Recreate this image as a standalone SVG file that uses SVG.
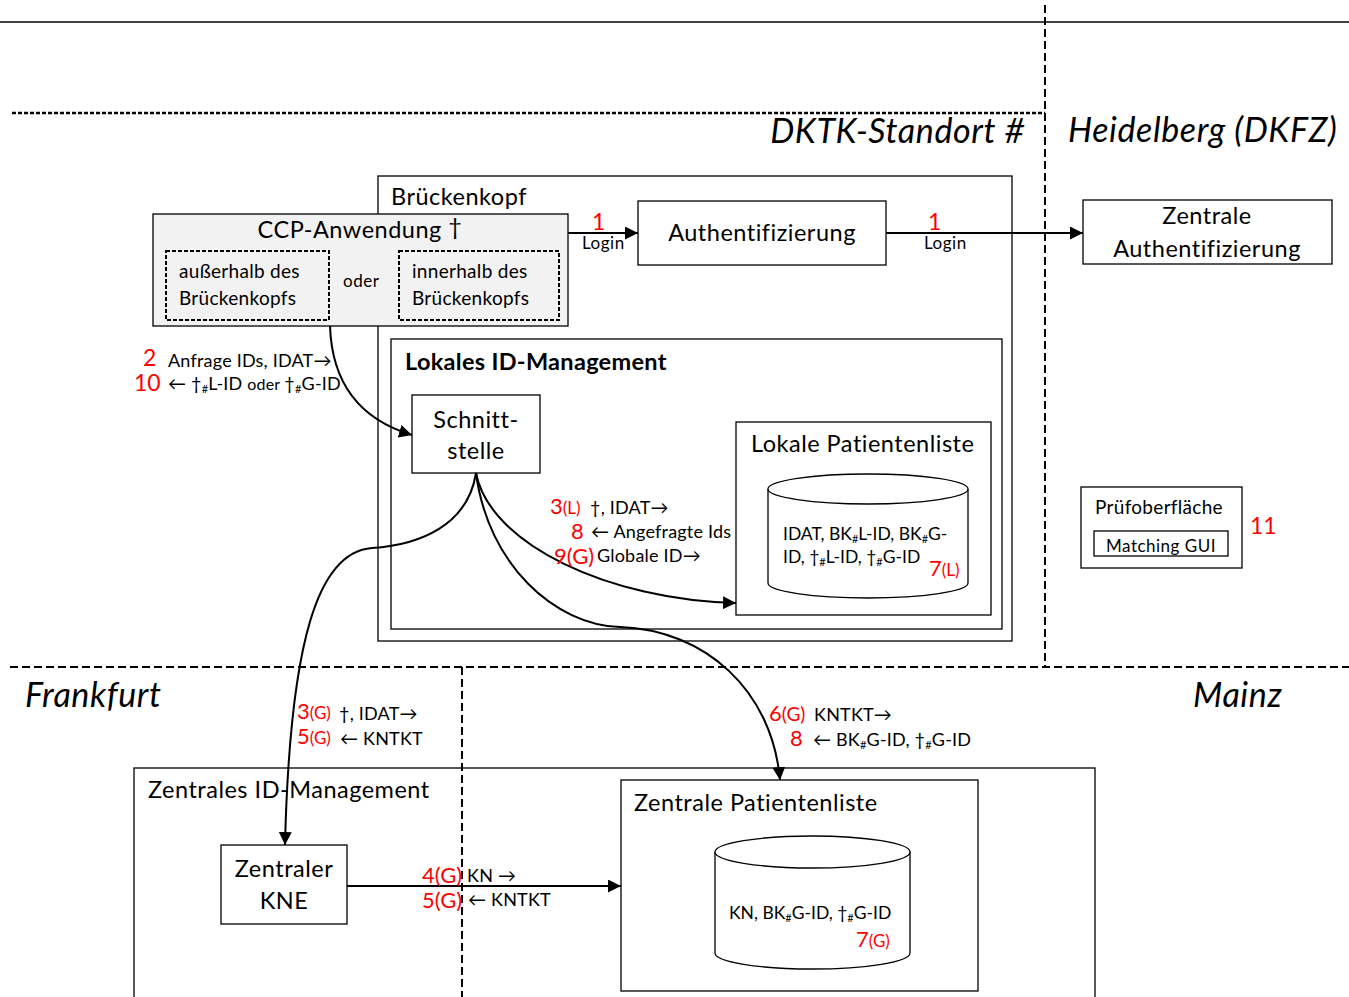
<svg xmlns="http://www.w3.org/2000/svg" width="1349" height="997" viewBox="0 0 1349 997">
  <defs>
    <marker id="arrowL" viewBox="0 0 10 10" refX="10" refY="5" markerWidth="13" markerHeight="13" markerUnits="userSpaceOnUse" orient="auto">
      <path d="M0,0 L10,5 L0,10 z" fill="#000"/>
    </marker>
    <style>
      text { font-family: Lato, "Open Sans", "DejaVu Sans", sans-serif; fill: #000; }
      .box { fill: #fff; stroke: #000; stroke-width: 1.3; }
      .ccp { fill: #f2f2f2; stroke: #000; stroke-width: 1.3; }
      .dbox { fill: none; stroke: #000; stroke-width: 2; stroke-dasharray: 4 2; }
      .region { fill: none; stroke: #000; stroke-width: 2; stroke-dasharray: 8 4; }
      .edge { fill: none; stroke: #000; stroke-width: 2; }
      .t22 { font-size: 23.5px; letter-spacing: 0.5px; }
      .t18 { font-size: 19px; letter-spacing: 0.3px; }
      .t17 { font-size: 18px; letter-spacing: 0.2px; }
      .db { font-size: 17.5px; }
      .t16 { font-size: 17px; letter-spacing: 0.5px; }
      .site { font-size: 34px; font-style: italic; letter-spacing: 0.6px; }
      .red { fill: #ff0000; }
      .sub { font-size: 11px; }
    </style>
  </defs>

  <rect x="0" y="0" width="1349" height="997" fill="#fff"/>

  <!-- site boundaries -->
  <g id="boundaries">
    <line x1="0" y1="22" x2="1349" y2="22" stroke="#000" stroke-width="1.5"/>
    <line x1="12" y1="113" x2="1045" y2="113" stroke="#000" stroke-width="2.5" stroke-dasharray="4 2"/>
    <line x1="1045" y1="5" x2="1045" y2="667" class="region"/>
    <line x1="10" y1="667" x2="1349" y2="667" class="region"/>
    <line x1="462" y1="667" x2="462" y2="997" class="region"/>
    <text class="site" x="1025" y="143" text-anchor="end">DKTK-Standort #</text>
    <text class="site" x="1068" y="142">Heidelberg (DKFZ)</text>
    <text class="site" x="25" y="707">Frankfurt</text>
    <text class="site" x="1193" y="707">Mainz</text>
  </g>

  <!-- Brückenkopf -->
  <g id="brueckenkopf">
    <rect x="378" y="176" width="634" height="465" class="box"/>
    <text class="t22" x="391" y="205">Brückenkopf</text>
  </g>

  <!-- Lokales ID-Management -->
  <g id="lokales-id-management">
    <rect x="391" y="339" width="611" height="290" class="box"/>
    <text class="t22" x="405" y="370" font-weight="bold" style="letter-spacing:0.3px">Lokales ID-Management</text>
  </g>

  <!-- CCP-Anwendung -->
  <g id="ccp-anwendung">
    <rect x="153" y="214" width="415" height="112" class="ccp"/>
    <text class="t22" x="360" y="238" text-anchor="middle">CCP-Anwendung <tspan dy="-3">†</tspan></text>
    <rect x="166" y="251" width="163" height="69" class="dbox"/>
    <text class="t18" x="179" y="278">außerhalb des</text>
    <text class="t18" x="179" y="305">Brückenkopfs</text>
    <text class="t16" x="343" y="287">oder</text>
    <rect x="399" y="251" width="160" height="69" class="dbox"/>
    <text class="t18" x="412" y="278">innerhalb des</text>
    <text class="t18" x="412" y="305">Brückenkopfs</text>
  </g>

  <!-- Authentifizierung -->
  <g id="authentifizierung">
    <rect x="638" y="201" width="248" height="64" class="box"/>
    <text class="t22" x="762" y="241" text-anchor="middle">Authentifizierung</text>
  </g>

  <!-- Zentrale Authentifizierung -->
  <g id="zentrale-authentifizierung">
    <rect x="1083" y="200" width="249" height="64" class="box"/>
    <text class="t22" x="1207" y="224" text-anchor="middle">Zentrale</text>
    <text class="t22" x="1207" y="257" text-anchor="middle">Authentifizierung</text>
  </g>

  <!-- Schnittstelle -->
  <g id="schnittstelle">
    <rect x="412" y="395" width="128" height="78" class="box"/>
    <text class="t22" x="476" y="428" text-anchor="middle">Schnitt-</text>
    <text class="t22" x="476" y="459" text-anchor="middle">stelle</text>
  </g>

  <!-- Lokale Patientenliste -->
  <g id="lokale-patientenliste">
    <rect x="736" y="422" width="255" height="193" class="box"/>
    <text class="t22" x="751" y="452">Lokale Patientenliste</text>
    <path d="M768,489 L768,583 A100,15 0 0 0 968,583 L968,489" class="box"/>
    <ellipse cx="868" cy="489" rx="100" ry="15" class="box"/>
    <text class="db" x="783" y="540">IDAT, BK<tspan class="sub" dy="3">#</tspan><tspan dy="-3">L-ID, BK</tspan><tspan class="sub" dy="3">#</tspan><tspan dy="-3">G-</tspan></text>
    <text class="db" x="783" y="563">ID, †<tspan class="sub" dy="3">#</tspan><tspan dy="-3">L-ID, †</tspan><tspan class="sub" dy="3">#</tspan><tspan dy="-3">G-ID</tspan></text>
    <text class="red" x="929" y="576"><tspan font-size="22">7</tspan><tspan font-size="17">(L)</tspan></text>
  </g>

  <!-- Prüfoberfläche -->
  <g id="pruefoberflaeche">
    <rect x="1081" y="487" width="161" height="81" class="box"/>
    <text class="t18" x="1095" y="514">Prüfoberfläche</text>
    <rect x="1094" y="531" width="134" height="25" class="box"/>
    <text class="t16" x="1161" y="552" text-anchor="middle">Matching GUI</text>
    <text class="red" font-size="23" x="1250" y="534">11</text>
  </g>

  <!-- Zentrales ID-Management -->
  <g id="zentrales-id-management">
    <rect x="134" y="768" width="961" height="240" fill="none" stroke="#000" stroke-width="1.3"/>
    <text class="t22" x="148" y="798">Zentrales ID-Management</text>
  </g>

  <!-- Zentraler KNE -->
  <g id="zentraler-kne">
    <rect x="221" y="845" width="126" height="79" class="box"/>
    <text class="t22" x="284" y="877" text-anchor="middle">Zentraler</text>
    <text class="t22" x="284" y="909" text-anchor="middle">KNE</text>
  </g>

  <!-- Zentrale Patientenliste -->
  <g id="zentrale-patientenliste">
    <rect x="621" y="780" width="357" height="211" class="box"/>
    <text class="t22" x="634" y="811">Zentrale Patientenliste</text>
    <path d="M715,852 L715,953 A97.5,16 0 0 0 910,953 L910,852" class="box"/>
    <ellipse cx="812.5" cy="852" rx="97.5" ry="16" class="box"/>
    <text class="db" x="729" y="919">KN, BK<tspan class="sub" dy="3">#</tspan><tspan dy="-3">G-ID, †</tspan><tspan class="sub" dy="3">#</tspan><tspan dy="-3">G-ID</tspan></text>
    <text class="red" x="856" y="947"><tspan font-size="22">7</tspan><tspan font-size="17">(G)</tspan></text>
  </g>

  <!-- connectors -->
  <g id="connectors">
    <line x1="568" y1="233" x2="638" y2="233" class="edge" marker-end="url(#arrowL)"/>
    <line x1="886" y1="233" x2="1083" y2="233" class="edge" marker-end="url(#arrowL)"/>
    <path d="M330,326 C332,385 362,420 412,435" class="edge" marker-end="url(#arrowL)"/>
    <path d="M476,473 C490,545 610,600 736,603" class="edge" marker-end="url(#arrowL)"/>
    <path d="M476,473 C488,565 555,625 620,627 C705,630 772,690 780,780" class="edge" marker-end="url(#arrowL)"/>
    <path d="M476,473 C468,525 420,545 372,548 C318,552 290,640 285,845" class="edge" marker-end="url(#arrowL)"/>
    <line x1="347" y1="886" x2="621" y2="886" class="edge" marker-end="url(#arrowL)"/>
  </g>

  <!-- connector labels -->
  <g id="labels">
    <text class="red" font-size="23" x="592" y="230">1</text>
    <text class="t16" x="582" y="249">Login</text>
    <text class="red" font-size="23" x="928" y="230">1</text>
    <text class="t16" x="924" y="249">Login</text>

    <text class="red" font-size="23" x="143" y="366">2</text>
    <text class="t17" x="168" y="367">Anfrage IDs, IDAT→</text>
    <text class="red" font-size="23" x="134" y="391">10</text>
    <text class="t17" x="168" y="390">← †<tspan class="sub" dy="3">#</tspan><tspan dy="-3">L-ID </tspan><tspan font-size="16">oder </tspan>†<tspan class="sub" dy="3">#</tspan><tspan dy="-3">G-ID</tspan></text>

    <text class="red" x="550" y="514"><tspan font-size="22">3</tspan><tspan font-size="17">(L)</tspan></text>
    <text class="t17" x="590" y="514">†, IDAT→</text>
    <text class="red" font-size="22" x="571" y="539">8</text>
    <text class="t17" x="591" y="538">← Angefragte Ids</text>
    <text class="red" font-size="22" x="554" y="564">9(G)</text>
    <text class="t17" x="597" y="562">Globale ID→</text>

    <text class="red" x="297" y="719"><tspan font-size="22">3</tspan><tspan font-size="17">(G)</tspan></text>
    <text class="t17" x="339" y="720">†, IDAT→</text>
    <text class="red" x="297" y="744"><tspan font-size="22">5</tspan><tspan font-size="17">(G)</tspan></text>
    <text class="t17" x="340" y="745">←  KNTKT</text>

    <text class="red" x="769" y="721"><tspan font-size="22">6</tspan><tspan font-size="19">(G)</tspan></text>
    <text class="t17" x="814" y="721">KNTKT→</text>
    <text class="red" font-size="22" x="790" y="746">8</text>
    <text class="t17" x="813" y="746">← BK<tspan class="sub" dy="3">#</tspan><tspan dy="-3">G-ID, †</tspan><tspan class="sub" dy="3">#</tspan><tspan dy="-3">G-ID</tspan></text>

    <text class="red" font-size="22" x="422" y="883">4(G)</text>
    <text class="t17" x="467" y="882">KN →</text>
    <text class="red" font-size="22" x="422" y="908">5(G)</text>
    <text class="t17" x="468" y="906">← KNTKT</text>
  </g>
</svg>
